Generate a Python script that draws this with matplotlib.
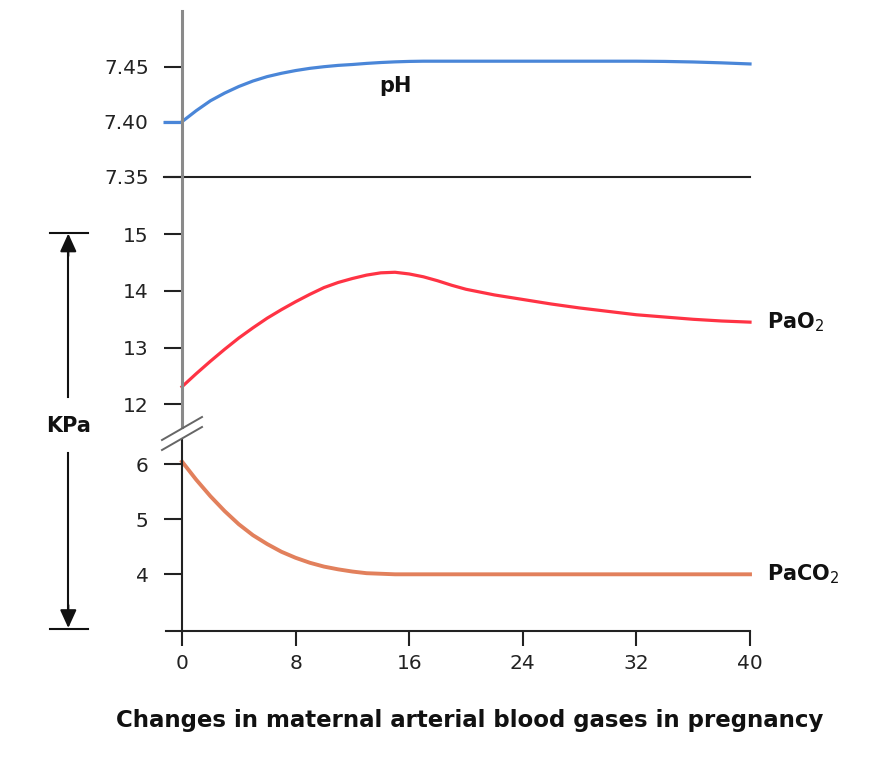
import matplotlib
matplotlib.use("Agg")
import matplotlib.pyplot as plt
from matplotlib.lines import Line2D

# ---- data ----
weeks = [0, 1, 2, 3, 4, 5, 6, 7, 8, 9, 10, 11, 12, 13, 14, 15, 16, 17, 18, 19, 20,
         22, 24, 26, 28, 30, 32, 34, 36, 38, 40]
ph = [7.400, 7.410, 7.419, 7.426, 7.432, 7.437, 7.441, 7.444, 7.4465, 7.4485, 7.450,
      7.4512, 7.452, 7.453, 7.4538, 7.4544, 7.4548, 7.455, 7.455, 7.455, 7.455,
      7.455, 7.455, 7.455, 7.455, 7.455, 7.455, 7.4548, 7.4543, 7.4535, 7.4525]
pao2 = [12.31, 12.54, 12.76, 12.97, 13.17, 13.35, 13.52, 13.67, 13.81, 13.94, 14.06,
        14.15, 14.22, 14.28, 14.32, 14.33, 14.30, 14.25, 14.18, 14.10, 14.03,
        13.93, 13.85, 13.77, 13.70, 13.64, 13.58, 13.54, 13.50, 13.47, 13.45]
paco2 = [6.05, 5.72, 5.42, 5.15, 4.91, 4.71, 4.55, 4.41, 4.30, 4.21, 4.14,
         4.09, 4.05, 4.02, 4.01, 4.00, 4.00, 4.00, 4.00, 4.00, 4.00,
         4.00, 4.00, 4.00, 4.00, 4.00, 4.00, 4.00, 4.00, 4.00, 4.00]
ph_pre_x = [-1.35, 0]
ph_pre = [7.40, 7.40]
x_ticks = [0, 8, 16, 24, 32, 40]
ph_ticks = [7.35, 7.40, 7.45]
pao2_ticks = [12, 13, 14, 15]
paco2_ticks = [4, 5, 6]
title = "Changes in maternal arterial blood gases in pregnancy"

W, H = 892, 768
fig = plt.figure(figsize=(W / 100, H / 100), dpi=100)
fig.patch.set_facecolor("white")

def fx(px):
    return px / W

def fy(py):
    return 1 - py / H

x0_px, x40_px = 182.0, 750.0
ppu = (x40_px - x0_px) / 40.0
xmin = -1.35
left_px = x0_px + xmin * ppu

def make_ax(top, bottom):
    return fig.add_axes([fx(left_px), fy(bottom), fx(x40_px) - fx(left_px), (bottom - top) / H])

ax_ph = make_ax(10.7, 176.7)
ax_o2 = make_ax(176.7, 427.0)
ax_co2 = make_ax(440.0, 631.0)

ax_ph.set_ylim(7.35, 7.35 + (176.7 - 10.7) / 1100.0)
ax_o2.set_ylim(12 - (427.0 - 404.3) / 56.67, 15 + (234.3 - 176.7) / 56.67)
ax_co2.set_ylim(4 - (631.0 - 574.3) / 55.0, 6 + (464.3 - 440.0) / 55.0)

tick_len_pt = 18 * 72 / 100
tick_size = 14.5

for ax in (ax_ph, ax_o2, ax_co2):
    ax.set_xlim(xmin, 40)
    ax.patch.set_alpha(0)
    for s in ("top", "right"):
        ax.spines[s].set_visible(False)
    ax.spines["left"].set_position(("data", 0))
    ax.tick_params(axis="y", direction="out", length=tick_len_pt, width=1.5,
                   color="#222222", pad=11, labelsize=tick_size, labelcolor="#222222")

upper_gray = "#8a8a8a"
for ax in (ax_ph, ax_o2):
    ax.spines["left"].set_color(upper_gray)
    ax.spines["left"].set_linewidth(2.2)
ax_co2.spines["left"].set_color("#222222")
ax_co2.spines["left"].set_linewidth(1.5)

ax_o2.spines["bottom"].set_visible(False)
ax_o2.set_xticks([])
ax_ph.set_xticks([])
ax_ph.spines["bottom"].set_color("#222222")
ax_ph.spines["bottom"].set_linewidth(1.5)
ax_ph.spines["bottom"].set_bounds(-1.27, 40)

ax_co2.spines["bottom"].set_color("#222222")
ax_co2.spines["bottom"].set_linewidth(1.5)
ax_co2.spines["bottom"].set_bounds(-1.13, 40)
ax_co2.set_xticks(x_ticks)
ax_co2.set_xticklabels([str(t) for t in x_ticks])
ax_co2.tick_params(axis="x", direction="out", length=15 * 72 / 100, width=1.5,
                   color="#222222", pad=6, labelsize=tick_size, labelcolor="#222222")

ax_ph.set_yticks(ph_ticks)
ax_ph.set_yticklabels(["%.2f" % t for t in ph_ticks])
ax_o2.set_yticks(pao2_ticks)
ax_o2.set_yticklabels([str(t) for t in pao2_ticks])
ax_co2.set_yticks(paco2_ticks)
ax_co2.set_yticklabels([str(t) for t in paco2_ticks])

# curves
blue = "#4a86d8"
red = "#ff3344"
orange = "#e2805c"
ax_ph.plot(ph_pre_x, ph_pre, color=blue, lw=2.3, clip_on=False, solid_capstyle="butt")
ax_ph.plot(weeks, ph, color=blue, lw=2.3, clip_on=False, solid_joinstyle="round")
ax_o2.plot(weeks, pao2, color=red, lw=2.3, clip_on=False, solid_joinstyle="round")
ax_co2.plot(weeks, paco2, color=orange, lw=2.8, clip_on=False, solid_joinstyle="round")

# labels
ax_ph.text(15, 7.432, "pH", ha="center", va="center", fontsize=15, fontweight="bold", color="#111111")
ax_o2.text(41.2, pao2[-1], "PaO$_2$", ha="left", va="center", fontsize=15, fontweight="bold",
           color="#111111", clip_on=False)
ax_co2.text(41.2, paco2[-1], "PaCO$_2$", ha="left", va="center", fontsize=15, fontweight="bold",
            color="#111111", clip_on=False)

# axis break marks
for dy in (0, 10):
    fig.add_artist(Line2D([fx(162), fx(202)], [fy(440 + dy), fy(417 + dy)],
                          color="#666666", lw=1.4))

# KPa double arrow
ax_x = 68.3
fig.add_artist(Line2D([fx(50), fx(88)], [fy(232.7), fy(232.7)], color="#111111", lw=1.5))
fig.add_artist(Line2D([fx(50), fx(88)], [fy(628.5), fy(628.5)], color="#111111", lw=1.5))
fig.add_artist(Line2D([fx(ax_x), fx(ax_x)], [fy(250), fy(397)], color="#111111", lw=1.5))
fig.add_artist(Line2D([fx(ax_x), fx(ax_x)], [fy(453), fy(612)], color="#111111", lw=1.5))
ax_co2.annotate("", xy=(fx(ax_x), fy(233.5)), xytext=(fx(ax_x), fy(256)),
                xycoords="figure fraction", textcoords="figure fraction",
                arrowprops=dict(arrowstyle="-|>,head_length=1.1,head_width=0.5",
                                color="#111111", lw=1.5, shrinkA=0, shrinkB=0))
ax_co2.annotate("", xy=(fx(ax_x), fy(628)), xytext=(fx(ax_x), fy(605)),
                xycoords="figure fraction", textcoords="figure fraction",
                arrowprops=dict(arrowstyle="-|>,head_length=1.1,head_width=0.5",
                                color="#111111", lw=1.5, shrinkA=0, shrinkB=0))
fig.text(fx(ax_x), fy(426.5), "KPa", ha="center", va="center", fontsize=15,
         fontweight="bold", color="#111111")

fig.text(fx(470), fy(721), title, ha="center", va="center", fontsize=16.5,
         fontweight="bold", color="#111111")

fig.savefig("out.png", dpi=100, facecolor="white")
